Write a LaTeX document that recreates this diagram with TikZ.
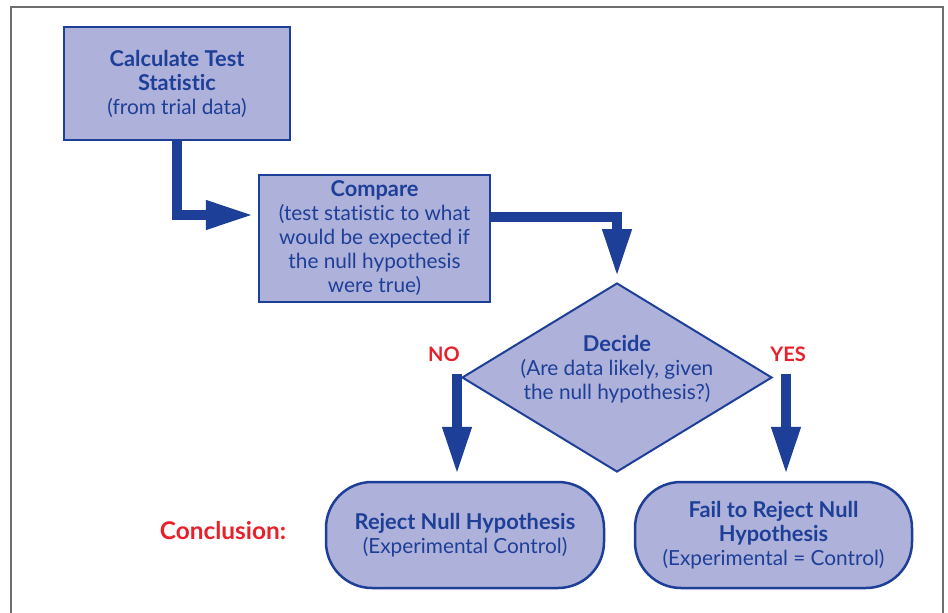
\documentclass[tikz,border=0pt]{standalone}
\usepackage{fontspec}
\setmainfont{Lato}[Ligatures=NoCommon]
\usetikzlibrary{arrows.meta,shapes.geometric}
\definecolor{dblue}{HTML}{1E3F98}
\definecolor{lfill}{HTML}{AEB1D9}
\definecolor{rred}{HTML}{E8202A}
\definecolor{framegray}{HTML}{6E6E6E}
\newcommand\hbold[1]{{\fontsize{21.8}{24}\selectfont\bfseries #1}}
\begin{document}
\begin{tikzpicture}[x=1pt,y=-1pt,
  box/.style={draw=dblue,fill=lfill,line width=2.5pt,text=dblue,align=center,inner sep=0pt,
    font=\fontsize{20.8}{24}\selectfont},
  endbox/.style={box,rounded corners=46pt},
  decbox/.style={draw=dblue,fill=lfill,line width=2pt,diamond,inner sep=0pt},
  lbl/.style={text=dblue,align=center,font=\fontsize{20.8}{24}\selectfont},
  redlbl/.style={text=rred,font=\fontsize{20}{24}\selectfont\bfseries},
  bigarrow/.style={draw=dblue,line width=10pt,line join=miter,
    -{Triangle[length=48pt,width=27pt]}},
]
\useasboundingbox (0,0) rectangle (948,613);
\draw[framegray,line width=2pt] (11,613) -- (11,7) -- (943,7) -- (943,613);

\node[box,minimum width=226pt,minimum height=113pt] (calc) at (177,83.5)
  {\hbold{Calculate Test}\\\hbold{Statistic}\\(from trial data)};
\node[box,minimum width=231pt,minimum height=127pt] (comp) at (374.5,238.5)
  {\hbold{Compare}\\(test statistic to what\\would be expected if\\the null hypothesis\\were true)};
\node[decbox,minimum width=310pt,minimum height=189pt] (dec) at (617,377.5) {};
\node[lbl] (dectext) at (617,369) {\hbold{Decide}\\(Are data likely, given\\the null hypothesis?)};

\node[endbox,minimum width=278pt,minimum height=106pt] (rej) at (465,535)
  {\hbold{Reject Null Hypothesis}\\(Experimental Control)};
\node[endbox,minimum width=277pt,minimum height=106pt] (fail) at (773.5,535)
  {\hbold{Fail to Reject Null}\\\hbold{Hypothesis}\\(Experimental = Control)};

\node[redlbl] (no) at (444,354) {NO};
\node[redlbl] (yes) at (788,354) {YES};
\node[text=rred,font=\fontsize{24.4}{28}\selectfont\bfseries] (concl) at (223,531) {Conclusion:};

\draw[bigarrow,shorten >=4pt] (calc.south) |- (comp.west |- 0,215);
\draw[bigarrow,shorten >=5pt] (comp.east |- 0,217) -| (dec.north);
\coordinate (nostart) at ([xshift=-4pt,yshift=4pt]dec.west);
\coordinate (yesstart) at ([xshift=13pt,yshift=4pt]dec.east);
\draw[bigarrow,shorten >=6pt] (nostart) -- (nostart |- rej.north);
\draw[bigarrow,shorten >=6pt] (yesstart) -- (yesstart |- fail.north);
\end{tikzpicture}
\end{document}
